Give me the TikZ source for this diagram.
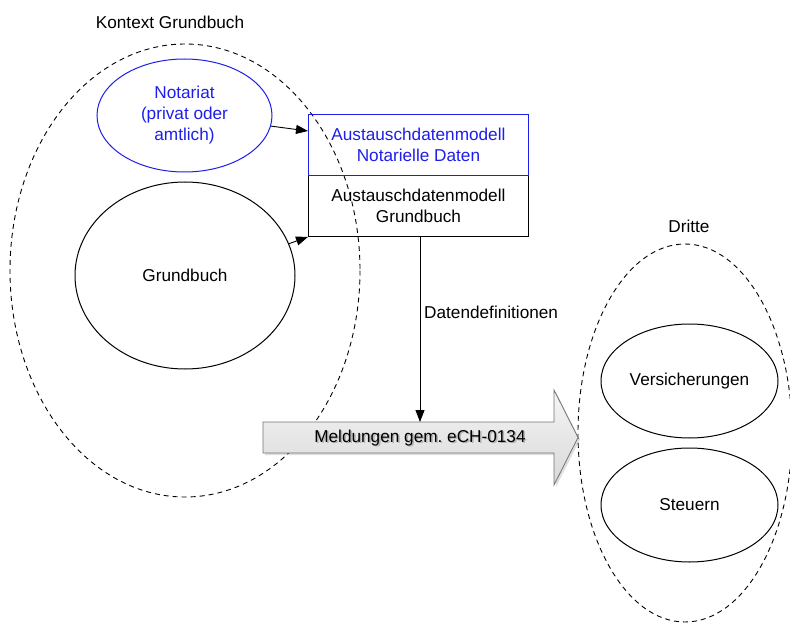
\documentclass[tikz,border=0pt]{standalone}
\usepackage{fontspec}
\setmainfont{Liberation Sans}
\usetikzlibrary{shapes.geometric,arrows.meta,calc,shadows}
\definecolor{nblue}{RGB}{30,30,235}
\frenchspacing
\begin{document}
\begin{tikzpicture}[x=1pt,y=-1pt,
  every node/.style={font=\fontsize{17.2}{21}\selectfont},
  ell/.style={ellipse,draw,line width=1pt,inner sep=0pt,align=center},
  dashell/.style={draw,dash pattern=on 5pt off 4pt,line width=0.9pt},
  conn/.style={line width=0.9pt,-{Triangle[length=12pt,width=9pt]}},
  lbl/.style={inner sep=0pt}]
\useasboundingbox (0,0) rectangle (790,623);
% dashed context ellipses
\draw[dashell] (185,270.5) ellipse [x radius=175, y radius=226.5];
\draw[dashell] (685,433) ellipse [x radius=107, y radius=189];
\node[lbl] (kg) at (170,22) {Kontext Grundbuch};
\node[lbl] (dr) at (689,226) {Dritte};
% left ellipses
\node[ell,draw=nblue,text=nblue,minimum width=175,minimum height=113] (not) at (184.5,115.5) {Notariat\\(privat oder\\amtlich)};
\node[ell,minimum width=220,minimum height=187] (gb) at (185,275.5) {Grundbuch};
% boxes
\node[draw=nblue,text=nblue,line width=0.9pt,minimum width=220,minimum height=61,inner sep=0pt,align=center,anchor=north west] (box1) at (308,114) {Austauschdatenmodell\\Notarielle Daten};
\node[draw=black,line width=0.9pt,minimum width=220,minimum height=61,inner sep=0pt,align=center,anchor=north west] (box2) at (308,175) {Austauschdatenmodell\\Grundbuch};
\draw[nblue,line width=0.9pt] (box1.south west) -- (box1.south east);
% right ellipses
\node[ell,minimum width=177,minimum height=114] (vers) at (689.5,381) {Versicherungen};
\node[ell,minimum width=177,minimum height=114] (st) at (689.5,505) {Steuern};
% block arrow
\draw[draw=gray!90!black,line width=0.8pt,top color=gray!8,bottom color=gray!30,drop shadow={opacity=0.25,shadow xshift=2pt,shadow yshift=-2pt}]
  (263,422) -- (554,422) -- (554,390) -- (578,437.5) -- (554,485) -- (554,453) -- (263,453) -- cycle;
\node[lbl,text=gray!60] (msgsh) at (421.5,439.5) {Meldungen gem. eCH-0134};
\node[lbl] (msg) at (420,438) {Meldungen gem. eCH-0134};
\coordinate (bodytop) at (420,422);
% connectors
\draw[conn] (not.-7) -- ($(box1.north west)+(0,17)$);
\draw[conn] (gb.17) -- (box2.south west);
\draw[conn] (box2.south -| bodytop) -- (bodytop);
\node[lbl,anchor=west] (dd) at (424,312) {Datendefinitionen};
\end{tikzpicture}
\end{document}
